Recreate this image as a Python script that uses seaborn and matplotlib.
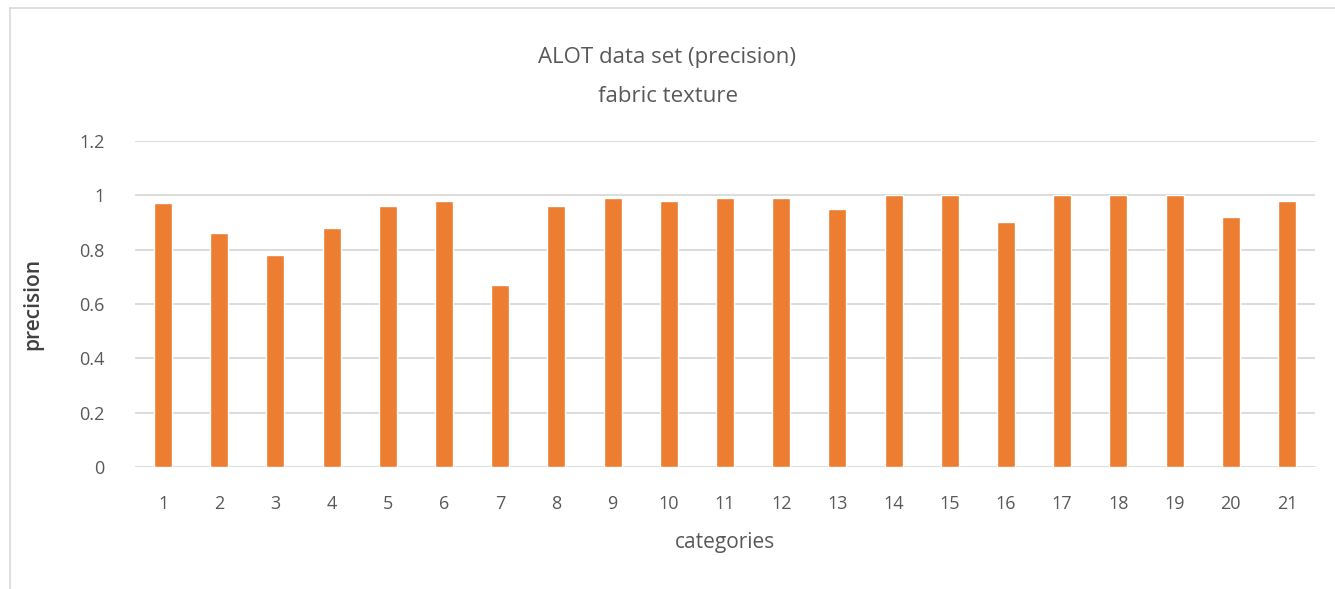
# ALOT precision bar chart

import matplotlib
matplotlib.use('Agg')
import matplotlib.pyplot as plt
import seaborn as sns
import pandas as pd

# data
categories = [str(i) for i in range(1, 22)]
precision = [0.97, 0.86, 0.78, 0.88, 0.96, 0.98, 0.67, 0.96, 0.99, 0.98, 0.99,
             0.99, 0.95, 1.0, 1.0, 0.90, 1.0, 1.0, 1.0, 0.92, 0.98]
yticks = [0, 0.2, 0.4, 0.6, 0.8, 1, 1.2]
ytick_labels = ['0', '0.2', '0.4', '0.6', '0.8', '1', '1.2']

df = pd.DataFrame({'categories': categories, 'precision': precision})

sns.set_style('white')
plt.rcParams['font.family'] = ['Open Sans', 'DejaVu Sans']

fig = plt.figure(figsize=(13.35, 5.89), dpi=100)
ax = fig.add_axes([135 / 1335, 122 / 589, 1180 / 1335, 326 / 589])

sns.barplot(data=df, x='categories', y='precision', color='#ED7D31',
            width=0.32, saturation=1, ax=ax, zorder=3)

ax.set_ylim(0, 1.2)
ax.set_xlim(-0.5, 20.5)
ax.set_yticks(yticks)
ax.set_yticklabels(ytick_labels)
ax.yaxis.grid(True, color='#D9D9D9', linewidth=1.3, zorder=0)
for s in ax.spines.values():
    s.set_visible(False)
ax.tick_params(axis='both', length=0, labelsize=13, labelcolor='#595959')
ax.tick_params(axis='x', pad=20)
ax.tick_params(axis='y', pad=22)
ax.set_xlabel('categories', fontsize=15, color='#595959', labelpad=14)
ax.set_ylabel('precision', fontsize=15, color='#404040', fontweight='semibold', labelpad=26)

fig.text(0.5, 1 - 58 / 589, 'ALOT data set (precision)', ha='center', va='center',
         fontsize=16, color='#595959')
fig.text(0.5, 1 - 96 / 589, 'fabric texture', ha='center', va='center',
         fontsize=16, color='#595959')

# light frame round the chart area
fig.add_artist(plt.Line2D([10 / 1335, 10 / 1335], [0, 1 - 8 / 589], color='#D9D9D9', lw=1.2))
fig.add_artist(plt.Line2D([10 / 1335, 1], [1 - 8 / 589, 1 - 8 / 589], color='#D9D9D9', lw=1.2))

fig.savefig('out.png', dpi=100)
